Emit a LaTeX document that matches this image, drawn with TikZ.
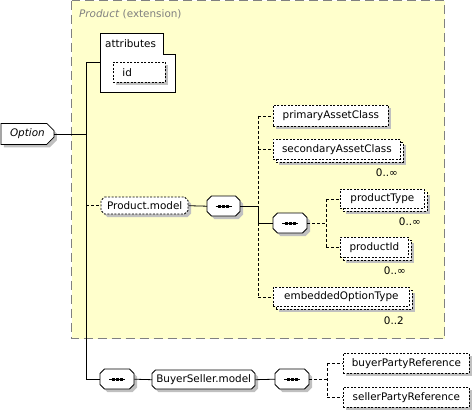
\documentclass[tikz,border=0pt]{standalone}
\usepackage{fontspec}
\setmainfont{DejaVu Sans}
\usetikzlibrary{shapes.misc,shadows}
\definecolor{extfill}{HTML}{FFFFCC}
\definecolor{shdc}{HTML}{C0C0C0}
\definecolor{extline}{HTML}{808080}
% octagonal box: name, x, y, w, h, chamfer, draw style, text
\newcommand\octbox[8]{%
  \fill[shdc,shift={(3,3)}] ({#2+#6},#3) -- ({#2+#4-#6},#3) -- ({#2+#4},{#3+#6}) -- ({#2+#4},{#3+#5-#6})
     -- ({#2+#4-#6},{#3+#5}) -- ({#2+#6},{#3+#5}) -- (#2,{#3+#5-#6}) -- (#2,{#3+#6}) -- cycle;
  \draw[fill=white,line width=0.8pt,#7] ({#2+#6},#3) -- ({#2+#4-#6},#3) -- ({#2+#4},{#3+#6}) -- ({#2+#4},{#3+#5-#6})
     -- ({#2+#4-#6},{#3+#5}) -- ({#2+#6},{#3+#5}) -- (#2,{#3+#5-#6}) -- (#2,{#3+#6}) -- cycle;
  \node[inner sep=0pt,anchor=north west,minimum width=#4pt,minimum height=#5pt] (#1) at (#2,#3) {#8};
}
\begin{document}
\begin{tikzpicture}[x=1pt,y=-1pt,font=\fontsize{10.4}{12}\selectfont,
  shd/.style={drop shadow={shadow xshift=3pt,shadow yshift=-3pt,fill=shdc,opacity=1}},
  base/.style={draw,fill=white,inner sep=0pt,anchor=north west,line width=0.8pt},
  elem/.style={base,rectangle,dash pattern=on 2pt off 1.5pt},
  conn/.style={line width=0.8pt},
  dconn/.style={line width=0.8pt,dash pattern=on 3pt off 2pt},
  mult/.style={anchor=east,inner sep=0pt}
]
\useasboundingbox (0,0) rectangle (474,413);
% extension area
\draw[fill=extfill,draw=extline,line width=0.8pt,dash pattern=on 9pt off 5pt] (71.5,0.5) rectangle (444.5,338.5);
\node[anchor=west,inner sep=0pt,text=extline] (ext) at (79,14) {\textit{Product} (extension)};

% Option
\node[base,chamfered rectangle,chamfered rectangle corners={north east,south east},chamfered rectangle xsep=3.5pt,
  shd,minimum width=53pt,minimum height=21pt] (opt) at (0.5,123) {\textit{Option}};

% attributes
\node[inner sep=0pt,anchor=north west,minimum width=75pt,minimum height=59pt] (attr) at (100,33) {};
\draw[conn,fill=white] (attr.north west) -- ([xshift=-12pt]attr.north east) -- ++(0,21) -- ++(12,0) -- (attr.south east) -- (attr.south west) -- cycle;
\node[anchor=west,inner sep=0pt] (attrlbl) at (105,44) {attributes};
\node[elem,shd,minimum width=52pt,minimum height=20pt] (id) at (113,62) {\makebox[34pt][l]{id}};

% Product.model branch
\octbox{pm}{101}{197}{87}{17}{3.5}{dash pattern=on 2pt off 1.5pt}{Product.model}
\octbox{s1}{207}{196}{33}{20}{4.5}{}{}
\octbox{s2}{273}{213}{34}{20}{4.5}{}{}

\node[elem,shd,minimum width=115pt,minimum height=21pt] (pac) at (273,105) {primaryAssetClass};
\node[elem,shd,minimum width=127pt,minimum height=20pt] (sacb) at (276,142) {};
\node[elem,minimum width=127pt,minimum height=20pt] (sac) at (273,139) {secondaryAssetClass};
\node[mult] (sacm) at (398,173) {0..∞};

\node[elem,shd,minimum width=84pt,minimum height=19pt] (ptb) at (343,192) {};
\node[elem,minimum width=84pt,minimum height=19pt] (pt) at (340,189) {productType};
\node[mult] (ptm) at (421,222) {0..∞};

\node[elem,shd,minimum width=68pt,minimum height=20pt] (pidb) at (343,240) {};
\node[elem,minimum width=68pt,minimum height=20pt] (pid) at (340,237) {productId};
\node[mult] (pidm) at (406,271) {0..∞};

\node[elem,shd,minimum width=136pt,minimum height=19pt] (eotb) at (276,290) {};
\node[elem,minimum width=136pt,minimum height=19pt] (eot) at (273,287) {embeddedOptionType};
\node[mult] (eotm) at (404,321) {0..2};

% BuyerSeller branch
\octbox{s3}{100}{369}{34}{20}{4.5}{}{}
\octbox{bsm}{152}{370}{103}{19}{3.5}{}{BuyerSeller.model}
\octbox{s4}{275}{369}{34}{20}{4.5}{}{}
\node[elem,shd,minimum width=126pt,minimum height=20pt] (bpr) at (343,353) {buyerPartyReference};
\node[elem,shd,minimum width=126pt,minimum height=20pt] (spr) at (343,387) {sellerPartyReference};

% sequence symbols
\foreach \s in {s1,s2,s3,s4}{
  \draw[conn] ([xshift=-8pt]\s.center) -- ([xshift=8pt]\s.center);
  \foreach \dx in {-4,0,4}
    \fill ([xshift=\dx pt]\s.center) +(-1.4pt,-1.4pt) rectangle +(1.4pt,1.4pt);
}

% connectors
\coordinate (tr) at (86,0);
\coordinate (v1) at (258,0);
\coordinate (v2) at (326,0);
\coordinate (v3) at (327,0);
\draw[conn] (opt.east) -- (opt.east -| tr);
\draw[conn] (attr.west) -- (attr.west -| tr) -- (tr |- s3.west) -- (s3.west);
\draw[dconn] (tr |- pm.west) -- (pm.west);
\draw[conn] (pm.east) -- (s1.west);
\draw[conn] (s1.east) -- (v1 |- s1.east) -- (v1 |- s2.west) -- (s2.west);
\draw[dconn] (v1 |- pac.west) -- (v1 |- s1.east);
\draw[dconn] (v1 |- s2.west) -- (v1 |- eot.west);
\draw[dconn] (v1 |- pac.west) -- (pac.west);
\draw[dconn] (v1 |- sac.west) -- (sac.west);
\draw[dconn] (v1 |- eot.west) -- (eot.west);
\draw[dconn] (s2.east) -- (v2 |- s2.east);
\draw[dconn] (v2 |- pt.west) -- (v2 |- pid.west);
\draw[dconn] (v2 |- pt.west) -- (pt.west);
\draw[dconn] (v2 |- pid.west) -- (pid.west);
\draw[conn] (s3.east) -- (bsm.west);
\draw[conn] (bsm.east) -- (s4.west);
\draw[dconn] (s4.east) -- (v3 |- s4.east);
\draw[dconn] (v3 |- bpr.west) -- (v3 |- spr.west);
\draw[dconn] (v3 |- bpr.west) -- (bpr.west);
\draw[dconn] (v3 |- spr.west) -- (spr.west);
\end{tikzpicture}
\end{document}
